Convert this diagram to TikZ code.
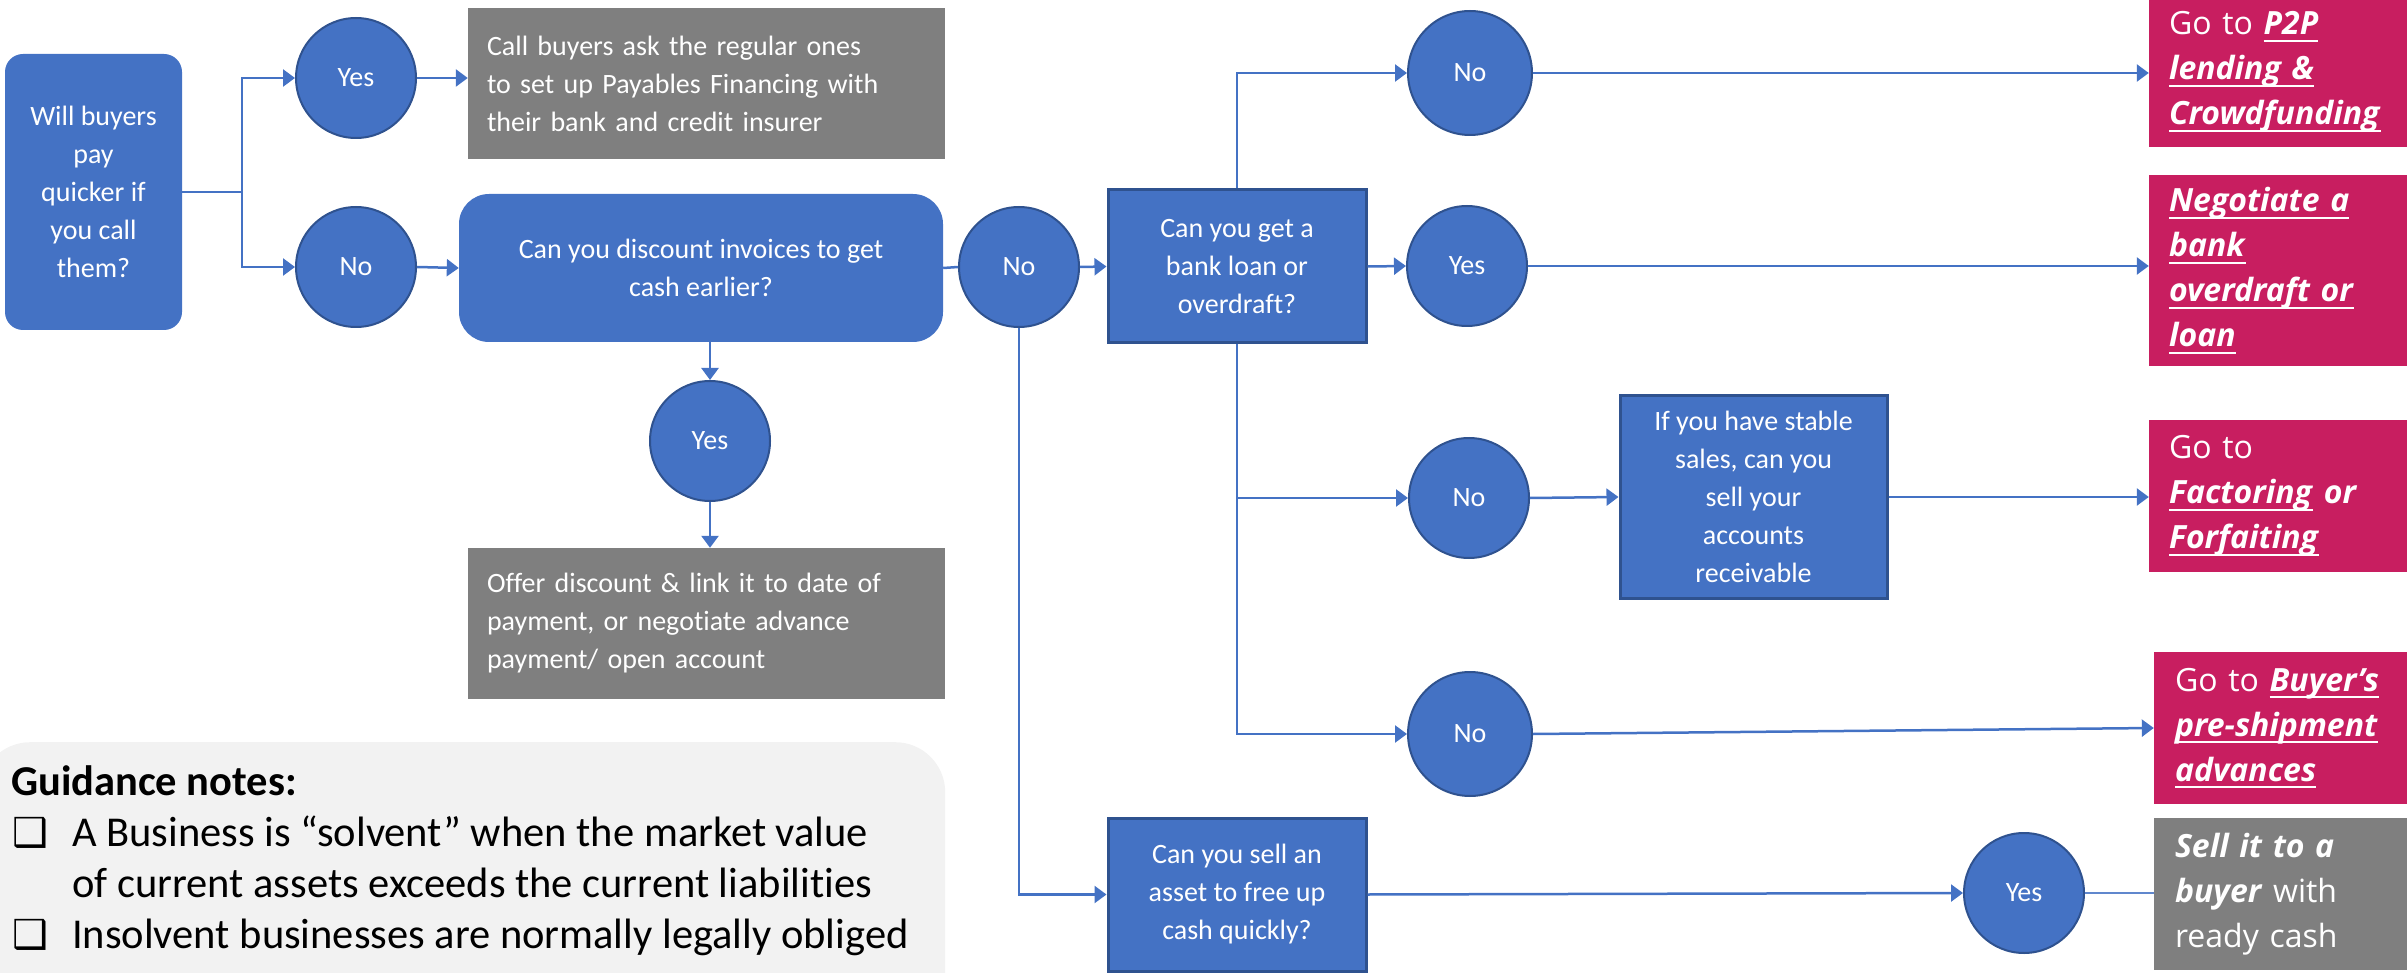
\documentclass[tikz,border=0pt]{standalone}
\usepackage{fontspec}
\setmainfont{Carlito}[Ligatures=NoCommon]
\newfontfamily\osans{Open Sans}
\newfontfamily\djv{DejaVu Sans}
\usetikzlibrary{arrows.meta}

\definecolor{flowblue}{HTML}{4472C4}
\definecolor{edgeblue}{HTML}{2F528F}
\definecolor{boxgray}{HTML}{7F7F7F}
\definecolor{hotpink}{HTML}{C81E60}
\definecolor{panelgray}{HTML}{F2F2F2}

% bold italic underlined link text in the outcome boxes
\newsavebox{\lkbox}
\newcommand{\lk}[1]{\sbox{\lkbox}{\textbf{\textit{#1}}}%
  \usebox{\lkbox}\llap{\rule[-7pt]{\wd\lkbox}{2pt}}}

\tikzset{
  bodyfont/.style={font=\fontsize{28}{38}\selectfont, text=white},
  decision/.style={circle, fill=flowblue, draw=edgeblue, line width=2pt,
    minimum size=120pt, inner sep=0pt, bodyfont},
  qbox/.style={rectangle, fill=flowblue, draw=edgeblue, line width=3pt,
    align=center, inner sep=0pt, bodyfont},
  roundq/.style={rectangle, fill=flowblue, align=center, inner sep=0pt, bodyfont},
  infobox/.style={rectangle, fill=boxgray, align=left, text width=439pt,
    inner xsep=19pt, inner ysep=0pt, minimum height=151pt, bodyfont},
  goal/.style={rectangle, fill=hotpink, text=white, align=left,
    font=\osans\fontsize{32}{45}\selectfont, inner ysep=0pt},
  outcome/.style={goal, fill=boxgray},
  flow/.style={draw=flowblue, line width=2.5pt},
  arr/.style={flow, -{Triangle[length=12pt,width=17pt]}},
  thinflow/.style={draw=flowblue!85, line width=1.8pt},
  gtext/.style={anchor=base west, inner sep=0pt, text=black,
    font=\fontsize{42.5}{51}\selectfont},
  gbullet/.style={anchor=base west, inner sep=0pt, text=black,
    font=\djv\fontsize{40}{51}\selectfont},
}

\begin{document}
\begin{tikzpicture}[x=1pt, y=-1pt]
\useasboundingbox (0,0) rectangle (2407,973);

% guidance notes panel
\node[rectangle, fill=panelgray, rounded corners=50pt, minimum width=965pt,
  minimum height=320pt, anchor=north west, inner sep=0pt] (panel) at (-20,742) {};
\node[gtext, font=\bfseries\fontsize{42.5}{51}\selectfont] (gtitle) at (11,795) {Guidance notes:};
\node[gbullet] (b1) at (12,846) {❑};
\node[gtext] (g1) at (72,846) {A Business is “solvent” when the market value};
\node[gtext] (g2) at (72,897) {of current assets exceeds the current liabilities};
\node[gbullet] (b2) at (12,948) {❑};
\node[gtext] (g3) at (72,948) {Insolvent businesses are normally legally obliged};

% first question and its answers
\node[roundq, rounded corners=18pt, minimum width=177pt, minimum height=276pt]
  (start) at (93.5,192) {Will buyers\\pay\\quicker if\\you call\\them?};
\node[decision] (yes1) at (356,78) {Yes};
\node[decision] (no1) at (356,267) {No};
\node[infobox] (call) at (706.5,83.5)
  {Call buyers ask the regular ones\\to set up Payables Financing with\\their bank and credit insurer};
\node[roundq, rounded corners=30pt, minimum width=484pt, minimum height=148pt]
  (disc) at (701,268) {Can you discount invoices to get\\cash earlier?};
\node[decision] (yes2) at (710,441) {Yes};
\node[infobox] (offer) at (706.5,623.5)
  {Offer discount \& link it to date of\\payment, or negotiate advance\\payment/ open account};

% financing questions
\node[decision] (no2) at (1019,267) {No};
\node[qbox, minimum width=258pt, minimum height=153pt] (bank) at (1237,266.5)
  {Can you get a\\bank loan or\\overdraft?};
\node[decision, minimum size=124pt] (noTop) at (1470,73) {No};
\node[decision] (yesBank) at (1467,266) {Yes};
\node[decision] (noMid) at (1469,498) {No};
\node[qbox, minimum width=267pt, minimum height=202pt] (stable) at (1753.5,497)
  {If you have stable\\sales, can you\\sell your\\accounts\\receivable};
\node[decision, minimum size=124pt] (noLow) at (1470,734) {No};
\node[qbox, minimum width=258pt, minimum height=153pt] (sell) at (1237,894.5)
  {Can you sell an\\asset to free up\\cash quickly?};
\node[decision] (yesSell) at (2024,893) {Yes};

% outcomes
\node[goal, text width=218pt, inner xsep=20pt, minimum height=150pt] (p2p) at (2278,72)
  {Go to \lk{P2P}\\\lk{lending \&}\\\lk{Crowdfunding}};
\node[goal, text width=220pt, inner xsep=20pt, minimum height=191pt] (overdraft) at (2279,270.5)
  {\lk{Negotiate a}\\\lk{bank}\\\lk{overdraft or}\\\lk{loan}};
\node[goal, text width=218pt, inner xsep=20pt, minimum height=152pt] (factor) at (2278,496)
  {Go to\\\lk{Factoring} \textbf{\textit{or}}\\\lk{Forfaiting}};
\node[goal, text width=212pt, inner xsep=21pt, minimum height=152pt] (buyer) at (2281,728)
  {Go to \lk{Buyer’s}\\\lk{pre-shipment}\\\lk{advances}};
\node[outcome, text width=212pt, inner xsep=21pt, minimum height=152pt] (sellit) at (2281,894)
  {\textbf{\textit{Sell it to a}}\\\textbf{\textit{buyer}} with\\ready cash};

% connectors
\coordinate (fork) at (242,192);
\draw[flow] (start.east) -- (fork);
\draw[arr] (fork) |- (yes1.west);
\draw[arr] (fork) |- (no1.west);
\draw[arr] (yes1.east) -- (yes1.east -| call.west);
\draw[arr] (no1.east) -- (disc.west);
\draw[arr] (yes2.north |- disc.south) -- (yes2.north);
\draw[arr] (yes2.south) -- (yes2.south |- offer.north);
\draw[flow] (disc.east) -- (no2.west);
\draw[arr] (no2.east) -- (bank.west);
\draw[arr] (bank.north) |- (noTop.west);
\draw[arr] (noTop.east) -- (noTop.east -| p2p.west);
\draw[arr] (bank.east) -- (yesBank.west);
\draw[arr] (yesBank.east) -- (yesBank.east -| overdraft.west);
\draw[arr] (bank.south) |- (noLow.west);
\draw[arr] (bank.south |- noMid.west) -- (noMid.west);
\draw[arr] (noMid.east) -- (stable.west);
\draw[arr] (stable.east) -- (stable.east -| factor.west);
\draw[arr] (noLow.east) -- (buyer.west);
\draw[arr] (no2.south) |- (sell.west);
\draw[arr] (sell.east) -- (yesSell.west);
\draw[thinflow] (yesSell.east) -- (yesSell.east -| sellit.west);
\end{tikzpicture}
\end{document}
